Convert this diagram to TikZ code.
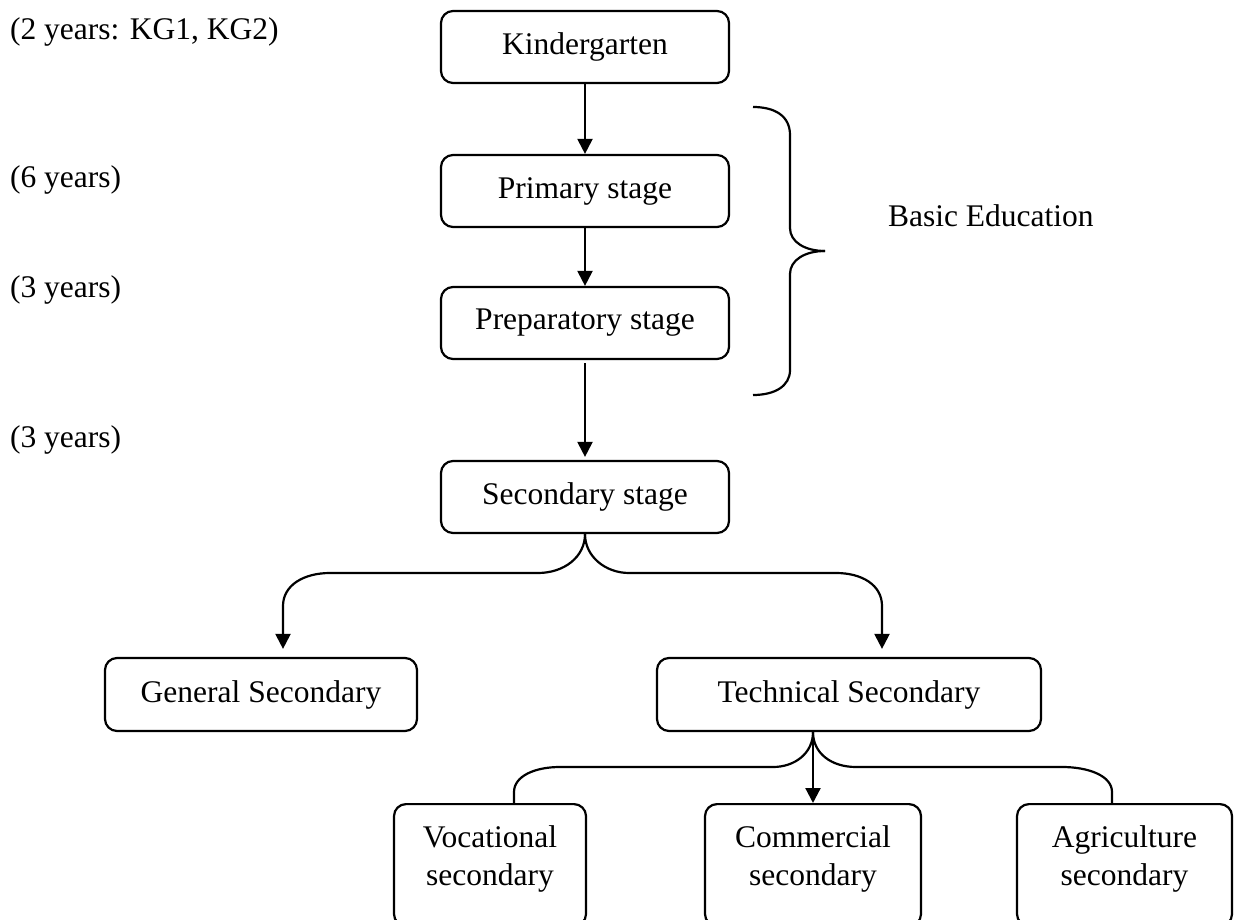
\documentclass[tikz,border=0pt]{standalone}
\usepackage{fontspec}
\setmainfont{Liberation Serif}
\usetikzlibrary{arrows.meta}

\begin{document}
\begin{tikzpicture}[x=1pt,y=-1pt,line width=2.2pt,
    stagebox/.style={draw,rounded corners=12pt,inner sep=0pt,minimum width=288pt,minimum height=72pt,align=center,font=\fontsize{31.5}{38}\selectfont},
    branchbox/.style={stagebox,anchor=north,minimum height=122pt,text depth=19pt},
    yearstxt/.style={anchor=west,inner sep=0pt,font=\fontsize{31.5}{38}\selectfont},
    arr/.style={-{Triangle[length=15pt,width=15pt]}}]
\useasboundingbox (0,0) rectangle (1235,920);

\node [stagebox] (kinder) at (585,47) {Kindergarten};
\node [stagebox] (primary) at (585,191) {Primary stage};
\node [stagebox] (prep) at (585,323) {Preparatory stage};
\node [stagebox] (secondary) at (585,497) {Secondary stage};

\node [stagebox,minimum width=312pt,minimum height=73pt] (general) at (261,694.5) {General Secondary};
\node [stagebox,minimum width=384pt,minimum height=73pt] (technical) at (849,694.5) {Technical Secondary};

\node [branchbox,minimum width=192pt] (vocational) at (490,803) {Vocational\\secondary};
\node [branchbox,minimum width=216pt] (commercial) at (813,803) {Commercial\\secondary};
\node [branchbox,minimum width=215pt] (agri) at (1124.5,803) {Agriculture\\secondary};

% durations on the left
\node [yearstxt] (kgyears) at (9,32) {(2 years: KG1, KG2)};
\node [yearstxt] (primyears) at (9,180) {(6 years)};
\node [yearstxt] (prepyears) at (9,290) {(3 years)};
\node [yearstxt] (secyears) at (9,440) {(3 years)};

\draw [arr] (kinder) -- (primary);
\draw [arr] (primary) -- (prep);
\draw [arr,shorten <=3pt,shorten >=3pt] (prep) -- (secondary);

% brace
\draw (753,107) .. controls (775,107) and (790,116) .. (790,135) -- (790,228)
      .. controls (790,242) and (805,251) .. (825,251);
\draw (825,251) .. controls (805,251) and (790,260) .. (790,274) -- (790,370)
      .. controls (790,386) and (775,395) .. (753,395);
\node [yearstxt] (basic) at (887,216) {Basic Education};

\coordinate (genleg) at (283,606);
\coordinate (techleg) at (882,606);
\draw [arr,shorten >=8pt] (secondary.south) .. controls (585,557) and (564,573) .. (538,573) -- (330,573)
      .. controls (304,573) and (283,585) .. (genleg) -- (general.north -| genleg);
\draw [arr,shorten >=8pt] (secondary.south) .. controls (585,557) and (606,573) .. (629,573) -- (836,573)
      .. controls (862,573) and (882,585) .. (techleg) -- (technical.north -| techleg);

\coordinate (vocleg) at (514,792);
\coordinate (agrileg) at (1112,792);
\draw (technical.south -| commercial.north) .. controls (813,753) and (795,767) .. (773,767) -- (560,767)
      .. controls (535,767) and (514,776) .. (vocleg) -- (vocational.north -| vocleg);
\draw (technical.south -| commercial.north) .. controls (813,753) and (831,767) .. (856,767) -- (1062,767)
      .. controls (1089,767) and (1112,776) .. (agrileg) -- (agri.north -| agrileg);
\draw [arr] (technical.south -| commercial.north) -- (commercial.north);
\end{tikzpicture}
\end{document}
